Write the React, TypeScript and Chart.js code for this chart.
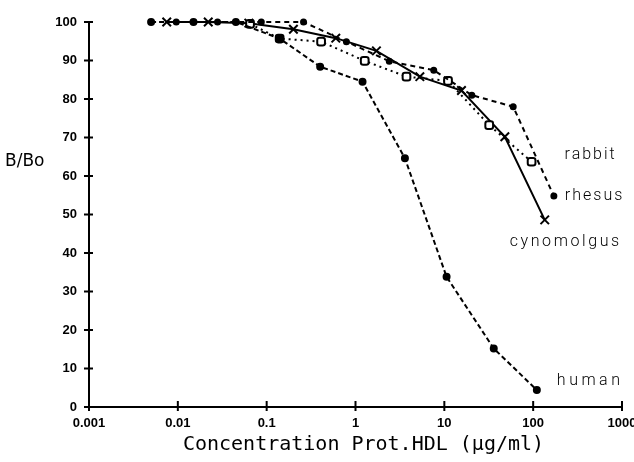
import React, { useEffect, useRef } from 'react';
import { Chart, registerables } from 'chart.js';
Chart.register(...registerables);

const xTickValues = [0.001, 0.01, 0.1, 1, 10, 100, 1000];
const xTickLabels = ['0.001', '0.01', '0.1', '1', '10', '100', '1000'];

const humanX = [0.005, 0.015, 0.045, 0.14, 0.4, 1.2, 3.6, 10.6, 36, 110];
const humanY = [100, 100, 100, 95.7, 88.4, 84.5, 64.6, 33.8, 15.2, 4.4];

const cynoX = [0.0075, 0.022, 0.063, 0.2, 0.6, 1.72, 5.3, 15.6, 48, 135];
const cynoY = [100, 100, 99.7, 98.1, 95.8, 92.5, 85.8, 82.2, 70.2, 48.6];

const rhesusX = [0.0096, 0.028, 0.087, 0.26, 0.79, 2.4, 7.6, 20.4, 59.6, 171];
const rhesusY = [100, 100, 100, 100, 94.9, 89.8, 87.5, 81.0, 78.0, 54.8];

const rabbitX = [0.065, 0.14, 0.41, 1.27, 3.75, 11, 32, 96];
const rabbitY = [99.5, 95.7, 94.9, 89.9, 85.8, 84.7, 73.2, 63.7];

const seriesNames = ['rabbit', 'rhesus', 'cynomolgus', 'human'];
const xTitle = 'Concentration Prot.HDL (\u00b5g/ml)';
const yTitle = 'B/Bo';

const toPts = (xs: number[], ys: number[]) => xs.map((x, i) => ({ x, y: ys[i] }));

export default function App() {
  const ref = useRef<HTMLCanvasElement | null>(null);
  useEffect(() => {
    if (!ref.current) return;
    const labelPlugin = {
      id: 'labels',
      afterDraw(chart: any) {
        const ctx = chart.ctx;
        const xs = chart.scales.x;
        const ys = chart.scales.y;
        const area = chart.chartArea;
        ctx.save();
        ctx.strokeStyle = '#000';
        ctx.lineWidth = 2;
        ys.ticks.forEach((t: any) => {
          const py = ys.getPixelForValue(t.value);
          ctx.beginPath();
          ctx.moveTo(area.left - 5, py);
          ctx.lineTo(area.left + 4, py);
          ctx.stroke();
        });
        xTickValues.forEach((v) => {
          const px = xs.getPixelForValue(v);
          ctx.beginPath();
          ctx.moveTo(px, area.bottom - 6);
          ctx.lineTo(px, area.bottom + 4);
          ctx.stroke();
        });
        ctx.fillStyle = '#000';
        // axis titles
        ctx.font = '20px "DejaVu Sans Mono", monospace';
        ctx.textAlign = 'center';
        ctx.textBaseline = 'alphabetic';
        ctx.fillText(xTitle, (area.left + area.right) / 2 + 8, 450);
        ctx.font = '17px "DejaVu Sans", sans-serif';
        ctx.textAlign = 'left';
        ctx.textBaseline = 'middle';
        ctx.fillText(yTitle, 5, 162);
        // series labels
        ctx.font = '300 16px Roboto, "DejaVu Sans", sans-serif';
        const last = (xa: number[], ya: number[]) => ({
          x: xs.getPixelForValue(xa[xa.length - 1]),
          y: ys.getPixelForValue(ya[ya.length - 1]),
        });
        const setSp = (s: string) => { try { (ctx as any).letterSpacing = s; } catch (e) {} };
        setSp('2px');
        const rb = last(rabbitX, rabbitY);
        ctx.textAlign = 'left';
        ctx.fillText(seriesNames[0], rb.x + 33, rb.y - 7);
        const rh = last(rhesusX, rhesusY);
        ctx.fillText(seriesNames[1], rh.x + 11, rh.y);
        setSp('2.6px');
        const cy = last(cynoX, cynoY);
        ctx.textAlign = 'center';
        ctx.fillText(seriesNames[2], cy.x + 21, cy.y + 22);
        setSp('3.5px');
        const hu = last(humanX, humanY);
        ctx.textAlign = 'left';
        ctx.fillText(seriesNames[3], hu.x + 20, hu.y - 9);
        ctx.restore();
      },
    };
    const tickFont = { family: '"Liberation Sans", Arial, sans-serif', size: 13, weight: 'bold' as const };
    const chart = new Chart(ref.current, {
      type: 'line',
      data: {
        datasets: [
          {
            label: 'human', data: toPts(humanX, humanY), borderColor: '#000', backgroundColor: '#000',
            borderWidth: 2, borderDash: [5, 3], pointStyle: 'circle', pointRadius: 3, tension: 0, clip: false as any,
          },
          {
            label: 'rhesus', data: toPts(rhesusX, rhesusY), borderColor: '#000', backgroundColor: '#000',
            borderWidth: 2, borderDash: [5, 4], pointStyle: 'circle', pointRadius: 2.5, tension: 0, clip: false as any,
          },
          {
            label: 'rabbit', data: toPts(rabbitX, rabbitY), borderColor: '#000', backgroundColor: '#fff',
            borderWidth: 2, borderDash: [2, 4], pointStyle: 'rectRounded', pointRadius: 4.5, pointBorderWidth: 2, tension: 0, clip: false as any,
          },
          {
            label: 'cynomolgus', data: toPts(cynoX, cynoY), borderColor: '#000', backgroundColor: '#000',
            borderWidth: 2, pointStyle: 'crossRot', pointRadius: 6, pointBorderWidth: 2, tension: 0, clip: false as any,
          },
        ],
      },
      options: {
        responsive: false,
        animation: false,
        layout: { padding: { top: 22, right: 0, left: 0, bottom: 0 } },
        plugins: { legend: { display: false }, tooltip: { enabled: false } },
        scales: {
          x: {
            type: 'logarithmic', min: 0.001, max: 1000,
            afterBuildTicks: (s: any) => { s.ticks = xTickValues.map((v) => ({ value: v })); },
            afterFit: (s: any) => { s.height = 55; s.paddingRight = 12; },
            grid: { display: false, drawTicks: false },
            border: { display: true, color: '#000', width: 2 },
            ticks: {
              autoSkip: false, maxRotation: 0, padding: 9, color: '#000', font: tickFont,
              callback: (_v: any, i: number) => xTickLabels[i],
            },
          },
          y: {
            min: 0, max: 100,
            afterFit: (s: any) => { s.width = 89; },
            grid: { display: false, drawTicks: false },
            border: { display: true, color: '#000', width: 2 },
            ticks: { stepSize: 10, padding: 12, color: '#000', font: tickFont },
          },
        },
      } as any,
      plugins: [labelPlugin],
    });
    return () => chart.destroy();
  }, []);
  return (
    <div style={{ position: 'absolute', left: 0, top: 0, width: 634, height: 462, background: '#fff' }}>
      <canvas ref={ref} width={634} height={462} />
    </div>
  );
}
